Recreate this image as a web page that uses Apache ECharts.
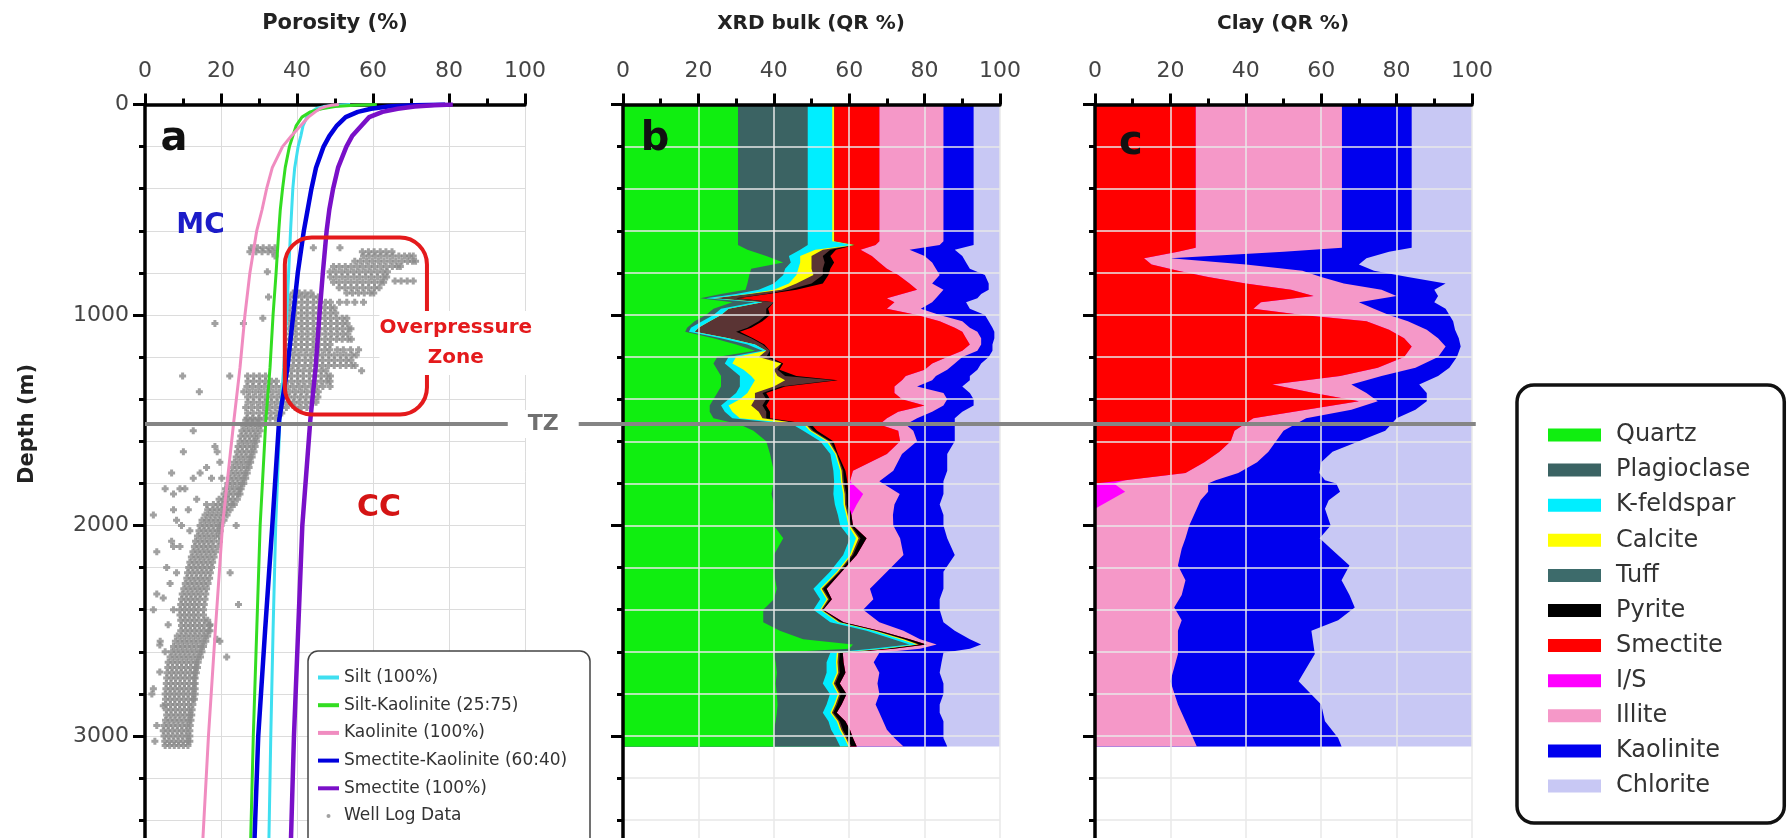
<!DOCTYPE html>
<html><head><meta charset="utf-8">
<script src="https://cdn.jsdelivr.net/npm/echarts/dist/echarts.min.js"></script>
<style>html,body{margin:0;padding:0;background:#fff}#c{width:1788px;height:838px}</style>
</head><body><div id="c"></div>
<script>
// ---------- Panel a: compaction curves (porosity %, depth m) ----------
const curveDepth = [0,4,10,20,35,60,100,150,200,300,400,500,600,800,1000,1250,1500,2000,2500,3000,3500];
const siltCurve = [54,50,47,45,43.8,42.6,41.6,41,40.3,39.4,38.9,38.6,38.3,37.8,37.3,36.5,35.5,34.4,33.7,33.1,32.6];
const siltKaoCurve = [61,55,50,46.5,43.5,41.3,39.8,38.9,38,36.9,36.2,35.6,35.2,34.5,33.7,32.9,31.8,30.3,29.4,28.5,27.8];
const kaoCurve = [51,49,47.5,46,44.8,43,41,38.5,36.2,33.5,32,30.8,29.4,27.6,26.3,25,23.4,20.4,18.5,16.7,15.2];
const smecKaoCurve = [79,71,64,59.5,56,52.8,50.5,48.5,47,45,43.8,42.8,41.8,40.2,39,37.5,35.3,33.5,31.6,29.8,28.8];
const smecCurve = [81,76,71,66.5,62.5,59,57,54.5,53,50.8,49.5,48.5,47.8,46.8,45.9,44.9,43.5,41.4,40.3,39.2,38.4];

// Well log data: [depth, porosity values read at that depth...]
const wellLogRows = [
[680,28,29.6,31.1,32.7,34.2,44.3,51.3],
[700,27.6,29.2,30.8,32.4,33.6,57.2,58.8,60.3,61.9,63.4,65],
[720,34.2,57.5,59,60.6,62.1,63.7,65.2,66.8,68.3,69.6,70.6],
[745,55.2,56.7,58.3,59.8,61.4,62.9,64.5,66,67.6,69.1,70.4,71.2],
[770,49.6,51.1,52.7,54.2,55.8,57.3,58.9,60.4,62,63.5,65.1,66.4,67.2],
[795,32.2,48.7,50.2,51.8,53.3,54.9,56.4,58,59.5,61.1,62.6,63.8],
[820,48.8,50.3,51.9,53.4,55,56.5,58.1,59.6,61.2,62.7,63.6],
[838,65.8,67.4,69,70.6],
[845,49.6,51.1,52.7,54.2,55.8,57.3,58.9,60.4,62,62.8],
[870,51.1,52.6,54.2,55.7,57.3,58.8,60.4,61.6],
[895,39,40.6,42.1,43.7,53.1,54.6,56.2,57.7,59.3,60.2],
[915,32.5,38.1,39.6,41.2,42.7,44.3,45.6],
[940,38.2,39.7,41.3,42.8,44.4,45.9,47.5,48.8,51.2,53.1,55.2,57.5],
[965,38,39.5,41.1,42.6,44.2,45.7,47.3,48.8,49.8],
[990,38.1,39.6,41.2,42.7,44.3,45.8,47.4,48.9,50.2],
[1015,31,38,39.5,41.1,42.6,44.2,45.7,47.3,48.8,50.4,51.9,53.1],
[1040,18.4,25.9,38.2,39.7,41.3,42.8,44.4,45.9,47.5,49,50.6,52.1,53.2],
[1065,38,39.5,41.1,42.6,44.2,45.7,47.3,48.8,50.4,51.9,53.5,54.2],
[1090,38.3,39.8,41.4,42.9,44.5,46,47.6,49.1,50.7,52.2,53.4],
[1115,38,39.5,41.1,42.6,44.2,45.7,47.3,48.8,50.4,51.9,53.4,54.3],
[1140,38.1,39.6,41.2,42.7,44.3,45.8,47.4,48.7],
[1165,38,39.5,41.1,42.6,44.2,45.7,47.3,48.6,50.6,52.2,54.1,56.2],
[1190,39,40.5,42.1,43.6,45.2,46.7,48.3,49.8,51.4,52.9,54.5,55.6],
[1215,39.1,40.6,42.2,43.7,45.3,46.8,48.4,49.9,51.5,53,54.2],
[1240,39,40.5,42.1,43.6,45.2,46.7,48.3,49.8,51.4,52.9,54.4,55.3],
[1265,37,38.5,40.1,41.6,43.2,44.7,46.3,47.6,57],
[1290,9.9,22.3,27,28.6,30.1,31.7,37.1,38.6,40.2,41.7,43.3,44.8,46.4,47.9,48.8],
[1315,27.1,28.6,30.2,31.7,33.3,34.6,37,38.5,40.1,41.6,43.2,44.7,46.3,47.8,48.7],
[1340,26.8,28.3,29.9,31.4,33,34.5,36,37.5,39,40.6,42.1,43.7,45.2,46.8,48.7],
[1365,14.3,26,27.5,29.1,30.6,32.2,33.7,35.3,36.6,38.1,39.6,41.2,42.7,44.3,45.6],
[1390,27,28.5,30.1,31.6,33.2,34.7,36.2,37.8,39.3,40.9,42.4,44,45.5],
[1415,27.1,28.6,30.2,31.7,33.3,34.8,36.4,37.9,39.1,40.6,42.2,43.7,45],
[1440,26.5,28,29.6,31.1,32.7,34.2,35.8,37.2,39.5,41.1,42.6],
[1465,27,28.5,30.1,31.6,33.2,34.7,36],
[1490,26.8,28.3,29.9,31.4,32.9,34.3],
[1500,26.5,27.7,28.9,30.1],
[1525,26,27.2,28.4,29.6,30.5],
[1550,12.7,25.5,26.7,27.9,29.1,30.3],
[1575,25.2,26.4,27.6,28.8,29.8],
[1600,25,26.2,27.4,28.6,29.4],
[1625,18.4,24.5,25.7,26.9,28.1,29],
[1650,10.1,19,24.3,25.5,26.7,27.9,28.7],
[1675,24,25.2,26.4,27.6,28.2],
[1700,19.7,23.5,24.7,25.9,27.1,27.8],
[1725,16.2,23,24.2,25.4,26.6,27.4],
[1750,7,14.5,22.6,23.8,25,26.2,26.9],
[1775,12.7,17.5,20.2,22.2,23.4,24.6,25.8,26.5],
[1800,21.8,23,24.2,25.4,26],
[1825,5.3,9.2,10.5,21.2,22.4,23.6,24.8,25.3],
[1850,7.5,20.8,22,23.2,24.4,25],
[1875,13.6,19.5,20.7,21.9,23.1,24.3],
[1900,16.2,18,19.2,20.4,21.6,22.8,23.5],
[1925,7.5,11.4,16.5,17.7,18.9,20.1,21.3,22.4],
[1950,2.2,15.8,17,18.2,19.4,20.6,21.6],
[1975,8.3,15,16.2,17.4,18.6,19.8,20.8],
[2000,9.6,14.5,15.7,16.9,18.1,19.3,20,24],
[2025,11.8,14.2,15.4,16.6,17.8,19,19.8],
[2050,13.8,15,16.2,17.4,18.6,19.6],
[2075,7,13.3,14.5,15.7,16.9,18.1,19.6],
[2100,7.5,9.2,13,14.2,15.4,16.6,17.8,19.2],
[2125,3.1,12.6,13.8,15,16.2,17.4,18.6],
[2150,12.2,13.4,14.6,15.8,17,18.2],
[2175,11.8,13,14.2,15.4,16.6,17.8],
[2200,5.7,11.5,12.7,13.9,15.1,16.3,17.5],
[2225,8.3,11.2,12.4,13.6,14.8,16,17.2,22.4],
[2250,11,12.2,13.4,14.6,15.8,17],
[2275,6.6,10.6,11.8,13,14.2,15.4,16.6],
[2300,10.2,11.4,12.6,13.8,15,16.2],
[2325,3.1,9.8,11,12.2,13.4,14.6,16],
[2345,4.8],
[2350,9.6,10.8,12,13.2,14.4,15.8],
[2375,9.4,10.6,11.8,13,14.2,15.6,24.6],
[2400,2.2,7.5,9.2,10.4,11.6,12.8,14,15.4],
[2425,9.2,10.4,11.6,12.8,14,15.4],
[2450,9.4,10.6,11.8,13,14.2,15.6,16.5],
[2472,6.1,17.1],
[2475,9.6,10.8,12,13.2,14.4,15.6,17],
[2500,9.4,10.6,11.8,13,14.2,15.4,16.6,17.1],
[2525,8.5,9.7,10.9,12.1,13.3,14.5,15.7,16.5],
[2540,18.9],
[2550,4,8,9.2,10.4,11.6,12.8,14,15.2,16,19.7],
[2568,3.9],
[2575,7.5,8.7,9.9,11.1,12.3,13.5,14.7,15.4],
[2600,5.3,7,8.2,9.4,10.6,11.8,13,14.2,15],
[2625,6.6,7.8,9,10.2,11.4,12.6,13.8,14.6,21.5],
[2650,6.1,7.3,8.5,9.7,10.9,12.1,13.3,14],
[2675,6,7.2,8.4,9.6,10.8,12,13.2,13.8],
[2696,3.9],
[2700,5.8,7,8.2,9.4,10.6,11.8,13,13.5],
[2725,5.7,6.9,8.1,9.3,10.5,11.7,12.9,13.2],
[2750,5.6,6.8,8,9.2,10.4,11.6,12.8,13.2],
[2775,2.2,5.5,6.7,7.9,9.1,10.3,11.5,12.7,13.2],
[2800,1.8,5.3,6.5,7.7,8.9,10.1,11.3,12.5,13.2],
[2825,5.4,6.6,7.8,9,10.2,11.4,12.6,13],
[2850,5.5,6.7,7.9,9.1,10.3,11.5,12.6],
[2856,4.8],
[2875,5.6,6.8,8,9.2,10.4,11.6,12.4],
[2900,5.7,6.9,8.1,9.3,10.5,11.7,12.3],
[2925,5.4,6.6,7.8,9,10.2,11.4,12.1],
[2950,3.1,5,6.2,7.4,8.6,9.8,11,11.9],
[2975,4.8,6,7.2,8.4,9.6,10.8,11.8],
[3000,5,6.2,7.4,8.6,9.8,11,11.8],
[3025,2.6,5.2,6.4,7.6,8.8,10,11.2,11.8],
[3045,5.3,6.5,7.7,8.9,10.1,11.3]
];

// ---------- Panel b: XRD bulk (QR %) ----------
const xrdDepth = [0,650,668,690,720,750,780,810,850,880,900,920,940,970,1000,1030,1060,1080,1110,1140,1170,1200,1230,1260,1290,1310,1340,1370,1400,1430,1460,1490,1520,1550,1600,1660,1740,1790,1850,1900,1950,2000,2060,2140,2220,2300,2350,2400,2460,2500,2540,2565,2585,2605,2650,2700,2750,2800,2850,2890,2930,2970,3010,3050];
const quartz = [30.5,30.5,30.5,33,38,42.5,34,33.5,33,32.5,26,20.5,29,24,22,19,17,16.5,24,30,35,25,24,25,26,26,26,25,24,23,23,24,31,34.6,38,39,40,40,39.4,40,40,40,42.5,40,40,40.8,40,37.2,37.2,41.6,47.8,61,60,40,40.5,40.8,40.5,40.8,41,40.8,40.5,40,40,40];
const plagioclase = [18.5,18.5,18.5,14,6,2,9,9,7,3.5,4,1.5,6,2,2,2,1,1,2,3,2,3,3,4,5,5,5,5,4,3,4,5,14,13.2,14.3,16,15.8,16,16.4,16.2,17,17.6,17.7,18.4,14.9,9.7,12.3,13.3,17.8,23,23.9,15,6,15,13.5,13.2,12.5,14.1,13,12.2,14,15.2,16.5,17.6];
const kfeldspar = [6.5,6.5,12,4,3,2.5,3.5,3.5,4,4,3,2,2,2,2,2,2,1.5,2,2,1,2,2,3,3,4,3,3,3,2,2,2,3,1.7,1.7,1.3,1.8,1.8,2.6,2.3,2.2,2.2,1.6,1.8,1.8,1.8,1.7,1.8,2,1.8,1.8,1.8,3,1.7,2.5,2.7,2.5,2.1,2,2,2.2,2.3,2.2,2.2];
const calcite = [0.5,0.5,0.5,2,3,3,3.5,4.5,2,2,0.5,0,0,0,0,0,0,0,0,0,0,6,13,8,7,8,6,2,4,6,7,6,0.5,0.5,0.5,0.3,0.4,0.4,0.4,0.4,0.4,0.4,0.7,0.4,0.4,0.4,0.4,0.3,0.4,0.4,0.9,0.5,0.5,0.4,0.4,0.4,0.4,0.4,0.4,0.4,0.4,0.4,0.4,0.4];
const tuff = [0,0,0,2,3,3.5,3,2.5,4,2,4.5,6,3,10,12,13,13,11,6,2,1,2,0,1,2,13,2,2,3,3,2,1,0.5,0.5,0.5,0.2,0.4,0.4,0.4,0.4,0.4,0.3,0.5,0.4,0.4,0.4,0.4,0.3,0.4,0.4,0.4,0.4,0.5,0.4,0.4,0.4,0.4,0.4,0.4,0.4,0.4,0.4,0.4,0.4];
const pyrite = [0,0,0,1.5,2,2.5,2,1.5,3,2,0.5,0.5,0,0.5,1,1,1,1,0.5,0.5,0,1,0.5,0.5,3,1,1,1,1,1,1,1,1,1,0.8,0.2,0.6,0.9,0.6,0.5,0.6,0.5,1.6,1,0.5,0.9,0.6,0.2,0.7,0.8,1.2,1.8,1.7,0.8,1.2,1.5,1.2,1.5,1.2,0.9,1.5,1.9,1.5,1.4];
const smectiteBulk = [12,12,5.5,6.5,11,12,15,18.5,23,32,35.5,39.5,32,31.5,39,47,54,59,56.5,54.5,51,47,39.5,38.5,29,17,29,34,35,42,34,31,18,21.5,17.7,13,2,0.7,0,0,0,0,0,0,0,0,0,0,0,0,0,0,0,0,0,0,0,0,0,0,0,0,0,0];
const isBulk = [0,0,0,0,0,0,0,0,0,0,0,0,0,0,0,0,0,0,0,0,0,0,0,0,0,0,0,0,0,0,0,0,0,0,0,0,0,0,3.9,2.2,0,0,0,0,0,0,0,0,0,0,0,0,0,0,0,0,0,0,0,0,0,0,0,0];
const illiteBulk = [17,17,17,13,14,14,13,11,6,7,10,13,10,9,6,6,4,4,4,3,4,4,6,6,8,8,6,13,12,5,9,8,7,4,4.5,4,10.7,7.8,9.7,10,11,10.7,8.9,12.4,12,11.5,11,10.6,9.5,6.4,2.8,2.7,7.1,9.7,8,9,10,8.7,9,11.3,10,9.8,11,12.4];
const kaoliniteBulk = [8,8,9,12,10,9,9,12,15,12,11,11,9,13,12,7,6,4.5,3.5,3,4,7,7,8,9,10,12,7,7,8,8,10,13,11,10,12,14.3,17,11.6,12,13.4,13.3,12.5,13.6,15,19.5,17.6,20.3,17,13.6,13.2,11.8,13.2,17,18,16,17.5,17,17,16,16,15,13,11.6];
const chloriteBulk = [7,7,7,12,10,9,8,4,3,3,5,6,9,8,4,3,2,1.5,1.5,2,2,3,5,6,8,8,10,8,7,7,10,12,12,12,12,14,14,15,15,16,15,15,14,12,15,15,16,16,15,12,8,5,8,15,15.5,16,15,15,16,16,15,15,15,14];

// ---------- Panel c: Clay (QR %) ----------
const clayDepth = [0,680,700,730,760,790,820,850,880,910,940,970,1000,1030,1070,1110,1150,1200,1250,1290,1330,1370,1410,1450,1490,1550,1600,1650,1700,1750,1785,1800,1840,1880,1920,2000,2060,2110,2190,2260,2330,2390,2450,2500,2610,2740,2850,2930,3010,3050];
const smectiteClay = [26.7,26.7,22,13,15,22,30,40,52,58,44,42,55,72,78,82,84,82,75,65,47,58,70,56,42,37,36,33,29,24,8,0,0,0,0,0,0,0,0,0,0,0,0,0,0,0,0,0,0,0];
const isClay = [0,0,0,0,0,0,0,0,0,0,0,0,0,0,0,0,0,0,0,0,0,0,0,0,0,0,0,0,0,0,0,5,8,4,0,0,0,0,0,0,0,0,0,0,0,0,0,0,0,0];
const illiteClay = [38.8,38.8,28,7,25,33,30,26,24,22,26,32,23,11,10,9,9,9,10,11,21,14,5,12,14,13,12,13,14,14,24,25,22,24,27,25,24,23,22,24,23,21,23,22,22,20,22,24,26,27];
const kaoliniteClay = [18.5,18.5,28,52,30,19,23,27,14,11,20,19,16,12,7.5,5.5,4,5,9,15,18,16,13,17,24,27,22,17,17,21.5,29,34,35,34,34,37.5,35.6,39.6,45.5,41.4,44.5,47.9,41.5,35.4,36.3,34,38,37,38.5,38.4];
const chloriteClay = [16,16,22,28,30,26,17,7,10,9,10,7,6,5,4.5,3.5,3,4,6,9,14,12,12,15,20,23,30,37,40,40.5,39,36,35,38,39,37.5,40.4,37.4,32.5,34.6,32.5,31.1,35.5,42.6,41.7,46,40,39,35.5,34.6];

// ---------- Tick labels ----------
const xTickLabels = [0,20,40,60,80,100];
const depthTickLabels = [0,1000,2000,3000];

// ---------- Styling ----------
const FONT = 'DejaVu Sans';
const bulkNames = ['Quartz','Plagioclase','K-feldspar','Calcite','Tuff','Pyrite','Smectite','I/S','Illite','Kaolinite','Chlorite'];
const bulkColors = ['#10ee10','#3b6363','#00eeff','#ffff00','#5a3434','#000000','#ff0000','#ff00ff','#f598c8','#0000ee','#c8c8f4'];
const clayNames = ['Smectite','I/S','Illite','Kaolinite','Chlorite'];
const clayColors = ['#ff0000','#ff00ff','#f598c8','#0000ee','#c8c8f4'];
const plusSymbol = 'path://M2,0H5V2H7V5H5V7H2V5H0V2H2Z';

const chart = echarts.init(document.getElementById('c'), null, {renderer:'canvas'});

function stackSeries(names, colors, arrays, depths, idx) {
  const n = depths.length;
  let run = new Array(n).fill(0);
  const cum = arrays.map(arr => { run = run.map((v, j) => v + arr[j]); return run.slice(); });
  const out = [];
  for (let i = names.length - 1; i >= 0; i--) {
    const hi = cum[i];
    const col = colors[i];
    out.push({
      type: 'custom', name: names[i], xAxisIndex: idx, yAxisIndex: idx, silent: true,
      itemStyle: {color: col}, z: 2,
      data: depths.map((d, j) => [hi[j], d]),
      encode: {x: 0, y: 1},
      renderItem: function (params, api) {
        if (params.dataIndex !== 0) return null;
        const pts = [api.coord([0, depths[0]])];
        for (let j = 0; j < n; j++) pts.push(api.coord([hi[j], depths[j]]));
        pts.push(api.coord([0, depths[n - 1]]));
        return {type: 'polygon', z2: 100 - i, shape: {points: pts}, style: {fill: col}};
      }
    });
  }
  return out;
}

const gridTop = 104.5, gridH = 842; // 0..4000 m
const grids = [
  {left: 145, width: 380, top: gridTop, height: gridH, outerBoundsMode: 'none'},
  {left: 623, width: 377, top: gridTop, height: gridH, outerBoundsMode: 'none'},
  {left: 1095, width: 377, top: gridTop, height: gridH, outerBoundsMode: 'none'}
];
function xAx(gi, z, gridColor, gw) {
  return {gridIndex: gi, type: 'value', position: 'top', min: 0, max: 100, interval: 20, z: z,
    axisLine: {show: true, onZero: false, lineStyle: {color: '#000', width: 3.5}},
    axisTick: {show: true, length: 11, lineStyle: {color: '#000', width: 3}},
    minorTick: {show: true, splitNumber: 2, length: 6, lineStyle: {color: '#000', width: 3}},
    axisLabel: {show: true, margin: 22, fontSize: 22, color: '#444', fontFamily: FONT,
      formatter: v => xTickLabels.indexOf(v) >= 0 ? String(v) : ''},
    splitLine: {show: true, lineStyle: {color: gridColor, width: gw}},
    minorSplitLine: {show: false}};
}
function yAx(gi, z, gridColor, gw) {
  return {gridIndex: gi, type: 'value', inverse: true, min: 0, max: 4000, interval: 1000, z: z,
    axisLine: {show: true, onZero: false, lineStyle: {color: '#000', width: 3.5}},
    axisTick: {show: true, length: 12, lineStyle: {color: '#000', width: 3}},
    minorTick: {show: true, splitNumber: 5, length: 6, lineStyle: {color: '#000', width: 3}},
    axisLabel: {show: gi === 0, margin: 16, fontSize: 22, color: '#444', fontFamily: FONT,
      formatter: v => depthTickLabels.indexOf(v) >= 0 ? String(v) : ''},
    splitLine: {show: true, lineStyle: {color: gridColor, width: gw}},
    minorSplitLine: {show: true, lineStyle: {color: gridColor, width: gw}}};
}

const wellPoints = [];
wellLogRows.forEach(r => { for (let k = 1; k < r.length; k++) wellPoints.push([r[k], r[0]]); });

function curve(name, arr, color, w) {
  return {type: 'line', name: name, xAxisIndex: 0, yAxisIndex: 0, data: curveDepth.map((d, i) => [arr[i], d]),
    symbol: 'none', silent: true, z: 4, lineStyle: {color: color, width: w}, itemStyle: {color: color}};
}

const series = [
  {type: 'scatter', name: 'Well Log Data', xAxisIndex: 0, yAxisIndex: 0, data: wellPoints, symbol: plusSymbol,
    symbolSize: 7, silent: true, z: 3, itemStyle: {color: '#8a8a8a'}},
  curve('Silt (100%)', siltCurve, '#3fdff0', 3),
  curve('Silt-Kaolinite (25:75)', siltKaoCurve, '#33dd22', 3),
  curve('Kaolinite (100%)', kaoCurve, '#f08cc0', 3),
  curve('Smectite-Kaolinite (60:40)', smecKaoCurve, '#0000dd', 4.5),
  curve('Smectite (100%)', smecCurve, '#7a10c8', 4.5)
].concat(
  stackSeries(bulkNames, bulkColors, [quartz, plagioclase, kfeldspar, calcite, tuff, pyrite, smectiteBulk, isBulk, illiteBulk, kaoliniteBulk, chloriteBulk], xrdDepth, 1),
  stackSeries(clayNames, clayColors, [smectiteClay, isClay, illiteClay, kaoliniteClay, chloriteClay], clayDepth, 2)
);

const option = {
  animation: false,
  backgroundColor: '#fff',
  textStyle: {fontFamily: FONT},
  grid: grids,
  xAxis: [xAx(0, 0, '#dcdcdc', 1), xAx(1, 3, '#e8e8e8', 1.5), xAx(2, 3, '#e8e8e8', 1.5)],
  yAxis: [yAx(0, 0, '#dcdcdc', 1), yAx(1, 3, '#e8e8e8', 1.5), yAx(2, 3, '#e8e8e8', 1.5)],
  legend: [
    {orient: 'vertical', left: 308, top: 651, padding: [18, 14, 0, 10], itemWidth: 21, itemHeight: 4, itemGap: 10.7,
      selectedMode: false, z: 20,
      textStyle: {fontSize: 17, lineHeight: 17, color: '#333', fontFamily: FONT},
      data: [
        {name: 'Silt (100%)', icon: 'rect'},
        {name: 'Silt-Kaolinite (25:75)', icon: 'rect'},
        {name: 'Kaolinite (100%)', icon: 'rect'},
        {name: 'Smectite-Kaolinite (60:40)', icon: 'rect'},
        {name: 'Smectite (100%)', icon: 'rect'},
        {name: 'Well Log Data', icon: 'circle'}
      ]},
    {orient: 'vertical', left: 1517, top: 385, padding: [38, 34, 25, 31], itemWidth: 53, itemHeight: 13, itemGap: 11.1,
      selectedMode: false, backgroundColor: '#fff', borderColor: '#111', borderWidth: 3.5, borderRadius: 17, z: 20,
      textStyle: {fontSize: 24, lineHeight: 24, color: '#333', fontFamily: FONT, padding: [0, 0, 0, 10]},
      data: bulkNames.map((nm, i) => nm === 'Tuff'
        ? {name: nm, icon: 'rect', itemStyle: {color: '#3d6b6b'}}
        : {name: nm, icon: 'rect', itemStyle: {color: bulkColors[i]}})}
  ],
  series: series
};
chart.setOption(option);

// ---------- Annotations positioned through the axes ----------
const P = (gi, x, y) => chart.convertToPixel({gridIndex: gi}, [x, y]);
const tzDepth = 1518;
const r1 = P(0, 36.8, 632), r2 = P(0, 74.2, 1473);
const tzA = P(0, 0, tzDepth), tzC = P(2, 101, tzDepth), tzT = P(0, 104.8, tzDepth);
function txt(pt, text, size, color, extra) {
  return Object.assign({type: 'text', x: pt[0], y: pt[1], z: 100,
    style: Object.assign({text: text, fill: color, fontSize: size, fontWeight: 'bold', fontFamily: FONT,
      align: 'center', verticalAlign: 'middle'}, extra || {})});
}
const graphics = [
  {type: 'rect', z: 10, shape: {x: 308, y: 651, width: 282, height: 230, r: 10},
    style: {fill: '#fff', stroke: '#444', lineWidth: 1.5}},
  {type: 'rect', z: 90, shape: {x: r1[0], y: r1[1], width: r2[0] - r1[0], height: r2[1] - r1[1], r: 27},
    style: {fill: 'none', stroke: '#e41a1c', lineWidth: 4}},
  {type: 'line', z: 95, shape: {x1: tzA[0], y1: tzA[1], x2: tzC[0], y2: tzC[1]}, style: {stroke: '#858585', lineWidth: 4}},
  txt(tzT, 'TZ', 22, '#707070', {backgroundColor: '#fff', padding: [3, 20]}),
  txt(P(0, 81.8, 1133), 'Overpressure\nZone', 20, '#e41a1c', {lineHeight: 30, backgroundColor: '#fff', padding: [2, 0]}),
  txt(P(0, 14.6, 576), 'MC', 28, '#1c1cc8'),
  txt(P(0, 61.6, 1920), 'CC', 30, '#d41414'),
  txt(P(0, 7.6, 168), 'a', 40, '#111'),
  txt(P(1, 8.5, 165), 'b', 40, '#111'),
  txt(P(2, 9.5, 185), 'c', 40, '#111'),
  txt([335, 24], 'Porosity (%)', 21, '#222'),
  txt([811, 24], 'XRD bulk (QR %)', 20, '#222'),
  txt([1283, 24], 'Clay (QR %)', 20, '#222'),
  Object.assign(txt([28, 424], 'Depth (m)', 21, '#222'), {rotation: Math.PI / 2})
];
chart.setOption({graphic: graphics});
</script>
</body></html>
